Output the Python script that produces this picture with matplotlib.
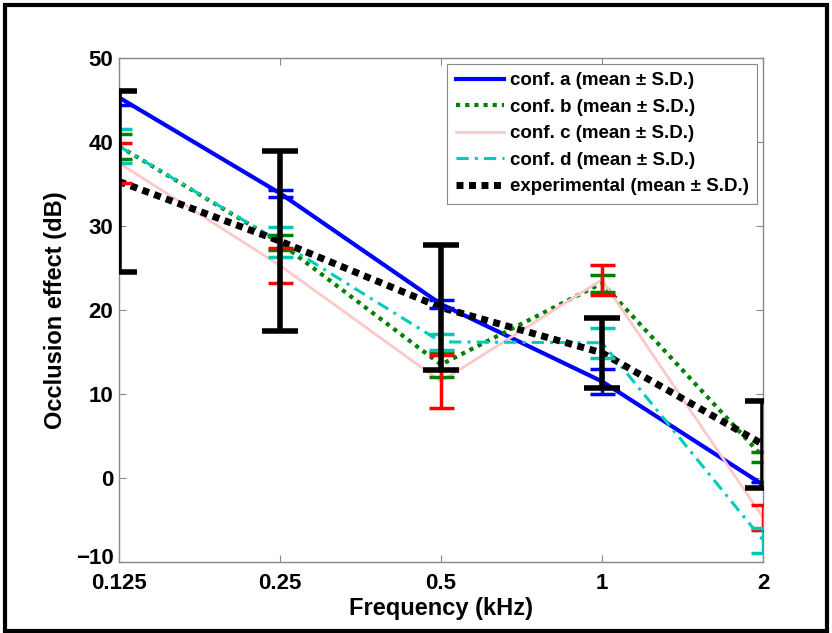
import matplotlib
matplotlib.use("Agg")
import matplotlib.pyplot as plt
from matplotlib.patches import Rectangle
import matplotlib.transforms as mtransforms

plt.rcParams['font.family'] = ['Liberation Sans', 'DejaVu Sans']

freqs = [0.125, 0.25, 0.5, 1, 2]
freq_labels = ['0.125', '0.25', '0.5', '1', '2']

conf_a = [45.3, 33.9, 20.7, 11.5, -0.8]
conf_a_sd = [0.9, 0.4, 0.5, 1.5, 0.3]
conf_b = [39.5, 28.0, 13.5, 23.2, 2.5]
conf_b_sd = [1.5, 0.9, 1.5, 1.0, 0.6]
conf_c = [37.5, 25.3, 11.5, 23.6, -4.7]
conf_c_sd = [2.4, 2.1, 3.2, 1.8, 1.5]
conf_d = [39.5, 28.1, 16.2, 16.1, -7.4]
conf_d_sd = [2.0, 1.8, 1.0, 1.8, 1.5]
exp_mean = [35.3, 28.2, 20.3, 14.9, 4.0]
exp_sd = [10.8, 10.7, 7.4, 4.2, 5.2]

labels = ['conf. a (mean \u00b1 S.D.)', 'conf. b (mean \u00b1 S.D.)',
          'conf. c (mean \u00b1 S.D.)', 'conf. d (mean \u00b1 S.D.)',
          'experimental (mean \u00b1 S.D.)']

fig = plt.figure(figsize=(8.32, 6.33), dpi=100)
ax = fig.add_axes([119/832, 1-562/633, (763-119)/832, (562-58)/633])

series = [
    (conf_a, conf_a_sd, dict(color='#0000FF', ls='-', lw=3.0), '#0000FF', 9, 2.5),
    (conf_b, conf_b_sd, dict(color='#008000', ls=(0, (1, 1.2)), lw=3.0), '#008000', 9, 2.5),
    (conf_c, conf_c_sd, dict(color='#FFC8C8', ls='-', lw=2.0), '#FF0000', 9, 2.5),
    (conf_d, conf_d_sd, dict(color='#00CCBB', ls=(0, (4, 2, 1, 2)), lw=2.2), '#00C8B4', 9, 2.5),
    (exp_mean, exp_sd, dict(color='black', ls=(0, (1, 0.8)), lw=5.0), 'black', 13, 4.0),
]

handles = []
for (vals, sd, style, ecol, cap, cth), lab in zip(series, labels):
    h, = ax.plot(freqs, vals, label=lab, zorder=3, **style)
    handles.append(h)

for (vals, sd, style, ecol, cap, cth) in series:
    ax.errorbar(freqs, vals, yerr=sd, fmt='none', ecolor=ecol,
                elinewidth=cth, capsize=cap, capthick=cth, zorder=4, clip_on=True)

ax.set_xscale('log', base=2)
ax.set_xlim(0.125, 2)
ax.set_ylim(-10, 50)
ax.set_xticks(freqs)
ax.set_xticklabels(freq_labels)
ax.minorticks_off()
ax.set_yticks(range(-10, 51, 10))
ax.tick_params(direction='in', top=True, right=True, length=5, width=0.8,
               colors='#888888', labelcolor='black', labelsize=16)
ax.tick_params(axis='x', pad=8)
ax.tick_params(axis='y', pad=4)
for lbl in ax.get_xticklabels() + ax.get_yticklabels():
    lbl.set_fontweight('bold')
# lift the lowest y label slightly, as in the reference
ylbls = ax.get_yticklabels()
ylbls[0].set_transform(ylbls[0].get_transform() +
                       mtransforms.ScaledTranslation(0, 6/100, fig.dpi_scale_trans))
for s in ax.spines.values():
    s.set_color('#888888')
    s.set_linewidth(1.0)

ax.set_xlabel('Frequency (kHz)', fontsize=17, fontweight='bold', labelpad=2)
ax.set_ylabel('Occlusion effect (dB)', fontsize=17, fontweight='bold', labelpad=6)

leg = ax.legend(handles=handles, loc='upper right',
                prop={'weight': 'bold', 'size': 13.5}, handlelength=2.6,
                handletextpad=0.3, borderpad=0.45, labelspacing=0.5,
                fancybox=False, framealpha=1, edgecolor='#888888',
                borderaxespad=0.3)
leg.get_frame().set_linewidth(0.8)

fig.patches.append(Rectangle((5/832, 2/633), 822/832, 626/633, transform=fig.transFigure,
                             fill=False, edgecolor='black', linewidth=3))

fig.savefig('out.png', dpi=100)
